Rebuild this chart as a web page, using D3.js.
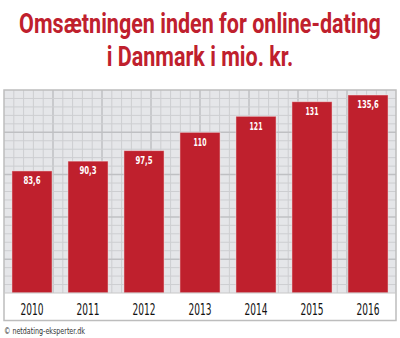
<!DOCTYPE html>
<html><head><meta charset="utf-8">
<script src="https://cdn.jsdelivr.net/npm/d3@7"></script>
<style>body{margin:0;background:#fff}svg{display:block}</style>
</head><body>
<script>
const titleLines = ["Omsætningen inden for online-dating", "i Danmark i mio. kr."];
const years = ["2010","2011","2012","2013","2014","2015","2016"];
const values = [83.6, 90.3, 97.5, 110, 121, 131, 135.6];
const valueLabels = ["83,6","90,3","97,5","110","121","131","135,6"];
const source = "© netdating-eksperter.dk";

(function(){
const W = 400, H = 338;
const pLeft = 4, pRight = 396, pTop = 90, plotBottom = 293, frameBottom = 320.5;
const red = "#bf202d";
const condensed = "'DejaVu Sans Condensed','DejaVu Sans',sans-serif";

const svg = d3.select("body").append("svg").attr("width", W).attr("height", H);

// title: fit line 1 to its width with natural font size, then stretch vertically
const titleG = svg.selectAll("g.title").data(titleLines).join("g").attr("class","title");
const titleText = titleG.append("text")
  .attr("text-anchor","middle")
  .attr("fill", red)
  .style("font-family", "Roboto, 'Open Sans', sans-serif").style("font-weight","bold").style("font-size","20px")
  .text(d=>d);
const natural = titleText.nodes()[0].getComputedTextLength();
const fs = 20 * 362 / natural;
titleText.style("font-size", fs + "px");
const sy = 20 / (0.711 * fs);
titleG.attr("transform", (d,i)=> `translate(200,${i===0 ? 33 : 66}) scale(1,${sy})`);

const x = d3.scaleBand().domain(years).range([pLeft, pRight]).paddingInner(0.283).paddingOuter(0.1415);
const y = d3.scaleLinear().domain([0, 139]).range([plotBottom, pTop]);

// plot background
svg.append("rect").attr("x", pLeft).attr("y", pTop).attr("width", pRight-pLeft).attr("height", plotBottom-pTop)
  .attr("fill", "#e5e6e9");

// grid
const nCols = 40, nRows = 24;
const colW = (pRight-pLeft)/nCols, rowH = (plotBottom-pTop)/nRows;
const g = svg.append("g");
g.selectAll("line.v").data(d3.range(1, nCols)).join("line")
  .attr("x1", i=>pLeft+i*colW).attr("x2", i=>pLeft+i*colW)
  .attr("y1", pTop).attr("y2", plotBottom)
  .attr("stroke", i=> i%5===0 ? "#bfc0c3" : "#cdced1")
  .attr("stroke-width", i=> i%5===0 ? 1.5 : 1);
g.selectAll("line.h").data(d3.range(1, nRows)).join("line")
  .attr("y1", i=>pTop+i*rowH).attr("y2", i=>pTop+i*rowH)
  .attr("x1", pLeft).attr("x2", pRight)
  .attr("stroke", i=> i%5===0 ? "#bfc0c3" : "#cdced1")
  .attr("stroke-width", i=> i%5===0 ? 1.5 : 1);

// bars
svg.selectAll("rect.bar").data(values).join("rect")
  .attr("class","bar")
  .attr("x", (d,i)=>x(years[i])).attr("width", x.bandwidth())
  .attr("y", d=>y(d)).attr("height", d=>plotBottom - y(d))
  .attr("fill", red)
  .attr("stroke", "rgba(255,255,255,0.45)").attr("stroke-width", 1);

// value labels
svg.selectAll("text.val").data(values).join("text")
  .attr("class","val")
  .attr("x", (d,i)=>x(years[i]) + x.bandwidth()/2)
  .attr("y", d=>y(d) + 13.3)
  .attr("text-anchor","middle").attr("fill","#fff")
  .style("font-family", condensed).style("font-weight","bold").style("font-size","10px")
  .attr("textLength", (d,i)=> valueLabels[i].length * 4.3)
  .attr("lengthAdjust","spacingAndGlyphs")
  .text((d,i)=>valueLabels[i]);

// frame
svg.append("rect").attr("x", pLeft).attr("y", pTop).attr("width", pRight-pLeft).attr("height", frameBottom-pTop)
  .attr("fill","none").attr("stroke","#bdbdbd").attr("stroke-width",1.5);
svg.append("line").attr("x1", pLeft).attr("x2", pRight).attr("y1", plotBottom).attr("y2", plotBottom)
  .attr("stroke","#c8c8c8").attr("stroke-width",1);

// x axis labels
const xAxis = d3.axisBottom(x).tickSize(0).tickPadding(0);
const ax = svg.append("g").attr("transform", `translate(0,${plotBottom})`).call(xAxis);
ax.select(".domain").remove();
ax.selectAll("text")
  .attr("y", 22).attr("dy", 0)
  .attr("fill","#111")
  .style("font-family", condensed).style("font-size","16px")
  .attr("textLength", 23).attr("lengthAdjust","spacingAndGlyphs");

// source
svg.append("text").attr("x", 4).attr("y", 334)
  .attr("fill","#333")
  .style("font-family", condensed).style("font-size","9.5px")
  .attr("textLength", 81).attr("lengthAdjust","spacingAndGlyphs")
  .text(source);
})();
</script>
</body></html>
